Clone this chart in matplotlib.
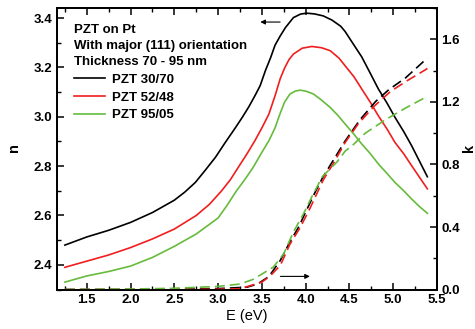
import matplotlib
matplotlib.use("Agg")
import matplotlib.pyplot as plt
from matplotlib.ticker import MultipleLocator

plt.rcParams['font.family'] = ['Liberation Sans', 'DejaVu Sans']
plt.rcParams['font.weight'] = 'bold'

# refractive index n vs photon energy (left axis)
E_n_3070 = [1.25, 1.5, 1.75, 2.0, 2.25, 2.5, 2.62, 2.74, 2.85, 2.97, 3.08, 3.2, 3.28, 3.35,
            3.42, 3.48, 3.54, 3.6, 3.65, 3.71, 3.77, 3.86, 3.94, 4.01, 4.1, 4.2, 4.3, 4.4,
            4.45, 4.54, 4.64, 4.74, 4.83, 4.93, 5.02, 5.12, 5.21, 5.3, 5.39]
n_3070 = [2.480, 2.513, 2.540, 2.572, 2.612, 2.662, 2.695, 2.734, 2.782, 2.836, 2.895, 2.957,
          3.0, 3.04, 3.085, 3.126, 3.187, 3.24, 3.29, 3.328, 3.362, 3.402, 3.416, 3.420, 3.417,
          3.409, 3.392, 3.367, 3.346, 3.297, 3.243, 3.175, 3.113, 3.055, 2.998, 2.94, 2.883,
          2.82, 2.757]

E_n_5248 = [1.25, 1.5, 1.75, 2.0, 2.25, 2.5, 2.75, 2.9, 3.04, 3.14, 3.23, 3.33, 3.42, 3.5,
            3.58, 3.65, 3.71, 3.76, 3.81, 3.86, 3.96, 4.07, 4.18, 4.28, 4.38, 4.45, 4.55,
            4.64, 4.74, 4.83, 4.93, 5.02, 5.12, 5.21, 5.3, 5.39]
n_5248 = [2.39, 2.415, 2.44, 2.47, 2.505, 2.545, 2.60, 2.645, 2.70, 2.745, 2.795, 2.85, 2.903,
          2.955, 3.011, 3.085, 3.155, 3.198, 3.232, 3.254, 3.278, 3.285, 3.28, 3.268, 3.238,
          3.207, 3.163, 3.113, 3.058, 3.004, 2.95, 2.896, 2.85, 2.802, 2.755, 2.708]

E_n_9505 = [1.25, 1.5, 1.75, 2.0, 2.25, 2.5, 2.75, 3.0, 3.1, 3.21, 3.31, 3.4, 3.49, 3.58,
            3.65, 3.71, 3.76, 3.82, 3.88, 3.94, 4.01, 4.09, 4.18, 4.28, 4.37, 4.45, 4.55,
            4.64, 4.74, 4.83, 4.93, 5.02, 5.12, 5.21, 5.3, 5.39]
n_9505 = [2.33, 2.355, 2.373, 2.395, 2.43, 2.475, 2.525, 2.59, 2.64, 2.70, 2.748, 2.795, 2.85,
          2.903, 2.955, 3.015, 3.06, 3.092, 3.104, 3.108, 3.103, 3.092, 3.068, 3.038, 3.005,
          2.971, 2.93, 2.89, 2.85, 2.809, 2.77, 2.734, 2.70, 2.667, 2.636, 2.609]

# extinction coefficient k (right axis)
E_k_3070 = [1.25, 2.0, 2.5, 3.0, 3.33, 3.45, 3.58, 3.71, 3.82, 3.92, 4.01, 4.11, 4.2, 4.33,
            4.45, 4.62, 4.8, 4.95, 5.14, 5.35, 5.39]
k_3070 = [0.0, 0.0, 0.002, 0.006, 0.015, 0.035, 0.083, 0.186, 0.304, 0.40, 0.508, 0.625,
          0.722, 0.84, 0.95, 1.086, 1.204, 1.279, 1.354, 1.461, 1.48]

E_k_5248 = [1.25, 2.5, 3.0, 3.25, 3.5, 3.6, 3.71, 3.82, 3.93, 4.03, 4.2, 4.33, 4.45, 4.6,
            4.78, 4.97, 5.17, 5.37, 5.39]
k_5248 = [0.0, 0.0, 0.002, 0.005, 0.047, 0.09, 0.154, 0.29, 0.39, 0.497, 0.70, 0.82, 0.94,
          1.06, 1.172, 1.268, 1.34, 1.407, 1.415]

E_k_9505 = [1.25, 2.0, 2.5, 3.0, 3.25, 3.4, 3.63, 3.75, 3.86, 3.98, 4.07, 4.19, 4.36, 4.45,
            4.55, 4.68, 4.91, 5.14, 5.39]
k_9505 = [0.0, 0.003, 0.008, 0.02, 0.035, 0.065, 0.143, 0.229, 0.368, 0.49, 0.593, 0.722,
          0.818, 0.885, 0.93, 1.0, 1.086, 1.161, 1.236]

labels = ['PZT 30/70', 'PZT 52/48', 'PZT 95/05']
colors = ['black', '#f01e1e', '#66bb3c']

fig = plt.figure(figsize=(4.75, 3.29), dpi=100)
ax = fig.add_axes([0.12, 0.12, 0.80, 0.855])
ax2 = ax.twinx()

n_series = [(E_n_3070, n_3070), (E_n_5248, n_5248), (E_n_9505, n_9505)]
k_series = [(E_k_3070, k_3070), (E_k_5248, k_5248), (E_k_9505, k_9505)]

handles = []
for (e, n), lab, c in zip(n_series, labels, colors):
    h, = ax.plot(e, n, color=c, lw=1.2, label=lab)
    handles.append(h)
for (e, k), c in zip(k_series, colors):
    ax2.plot(e, k, color=c, lw=1.2, linestyle=(0, (6, 3)))

ax.set_xlim(1.16, 5.5)
ax.set_ylim(2.3, 3.44)
ax2.set_ylim(0, 1.80)

ax.xaxis.set_major_locator(MultipleLocator(0.5))
ax.xaxis.set_minor_locator(MultipleLocator(0.25))
ax.yaxis.set_major_locator(MultipleLocator(0.2))
ax.yaxis.set_minor_locator(MultipleLocator(0.1))
ax2.yaxis.set_major_locator(MultipleLocator(0.4))
ax2.yaxis.set_minor_locator(MultipleLocator(0.2))

for a in (ax, ax2):
    a.tick_params(which='major', direction='in', length=5, width=1.1, labelsize=9.5)
    a.tick_params(which='minor', direction='in', length=3, width=1.0)
    for s in a.spines.values():
        s.set_linewidth(1.3)
ax.tick_params(which='both', top=True)
ax.tick_params(axis='y', which='both', right=False)
ax2.tick_params(axis='y', pad=3)

fig.text(14 / 475, 1 - 148 / 329, 'n', rotation=90, ha='center', va='center', fontsize=10.5)
fig.text(469 / 475, 1 - 148 / 329, 'k', rotation=90, ha='center', va='center', fontsize=10.5)
ax.set_xlabel('E (eV)', fontsize=10.5, labelpad=2)

# arrows pointing to each axis
ax.annotate('', xy=(3.45, 3.384), xytext=(3.74, 3.384),
            arrowprops=dict(arrowstyle='-|>', color='black', lw=0.8, mutation_scale=7))
ax2.annotate('', xy=(4.08, 0.084), xytext=(3.68, 0.084),
            arrowprops=dict(arrowstyle='-|>', color='black', lw=0.8, mutation_scale=7))

leg = ax.legend(handles=handles, loc='upper left', frameon=False, fontsize=9.5,
                title='PZT on Pt\nWith major (111) orientation\nThickness 70 - 95 nm',
                title_fontproperties={'size': 9.5, 'weight': 'bold'}, alignment='left',
                handlelength=2.35, handletextpad=0.55, labelspacing=0.42,
                borderaxespad=0.3, bbox_to_anchor=(0.02, 0.975))
leg.get_title().set_linespacing(1.42)

fig.savefig('out.png', dpi=100)
